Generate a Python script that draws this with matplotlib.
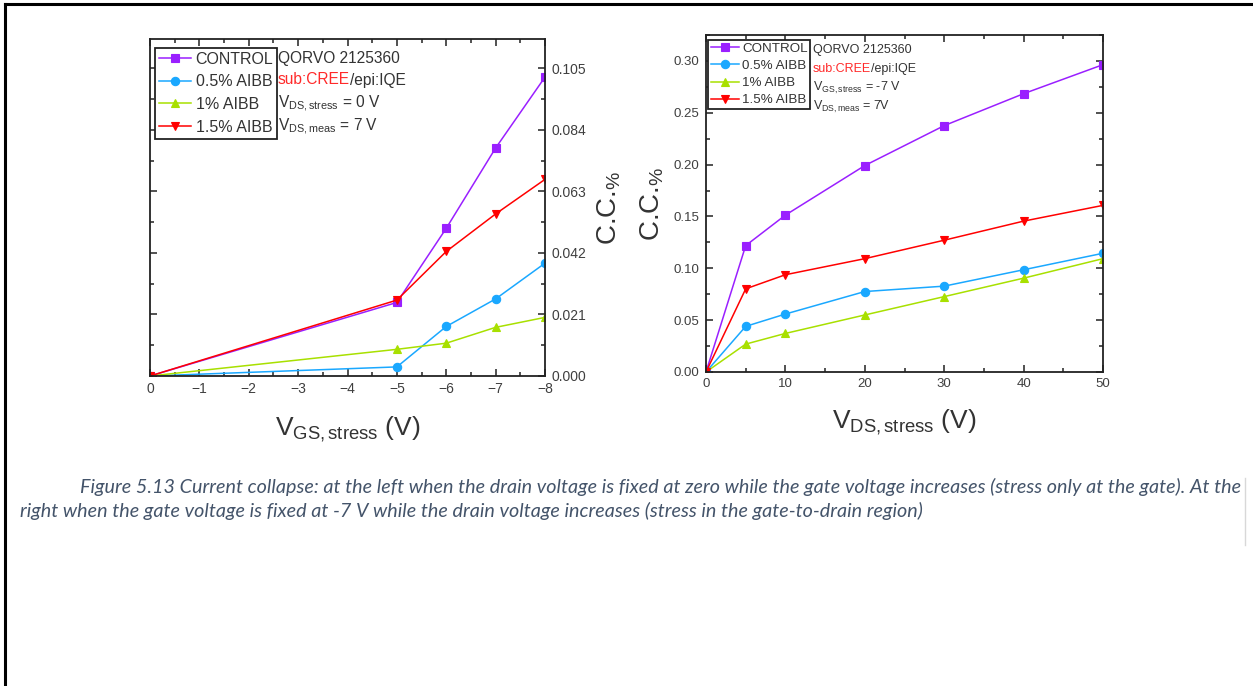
import matplotlib
matplotlib.use("Agg")
import matplotlib.pyplot as plt
from matplotlib.lines import Line2D
from matplotlib.ticker import MultipleLocator, FormatStrFormatter

plt.rcParams['font.family'] = ['Liberation Sans', 'DejaVu Sans']
plt.rcParams['mathtext.fontset'] = 'custom'
plt.rcParams['mathtext.rm'] = 'Liberation Sans'
plt.rcParams['mathtext.it'] = 'Liberation Sans:italic'
plt.rcParams['mathtext.default'] = 'regular'

# ---- data -------------------------------------------------------------
series_labels = ['CONTROL', '0.5% AIBB', '1% AIBB', '1.5% AIBB']
series_colors = ['#9A1FFF', '#1AA8FF', '#A8E000', '#FF0000']
series_markers = ['s', 'o', '^', 'v']

# gate stress sweep (V_DS,stress = 0 V)
vgs_stress = [0, -5, -6, -7, -8]
cc_vgs_control = [0.0, 0.0251, 0.0504, 0.0778, 0.1020]
cc_vgs_aibb05 = [0.0, 0.0031, 0.0169, 0.0263, 0.0385]
cc_vgs_aibb10 = [0.0, 0.0091, 0.0112, 0.0166, 0.0200]
cc_vgs_aibb15 = [0.0, 0.0259, 0.0425, 0.0553, 0.0671]

# drain stress sweep (V_GS,stress = -7 V)
vds_stress = [0, 5, 10, 20, 30, 40, 50]
cc_vds_control = [0.0, 0.1219, 0.1513, 0.1991, 0.2376, 0.2684, 0.2964]
cc_vds_aibb05 = [0.0, 0.0440, 0.0559, 0.0776, 0.0828, 0.0986, 0.1145]
cc_vds_aibb10 = [0.0, 0.0269, 0.0372, 0.0550, 0.0727, 0.0905, 0.1093]
cc_vds_aibb15 = [0.0, 0.0802, 0.0938, 0.1093, 0.1271, 0.1455, 0.1607]

vgs_ticks = [0, -1, -2, -3, -4, -5, -6, -7, -8]
vgs_cc_ticks = [0.000, 0.021, 0.042, 0.063, 0.084, 0.105]
vds_ticks = [0, 10, 20, 30, 40, 50]
vds_cc_ticks = [0.00, 0.05, 0.10, 0.15, 0.20, 0.25, 0.30]

caption_line1 = ("Figure 5.13 Current collapse: at the left when the drain voltage is fixed at zero "
                 "while the gate voltage increases (stress only at the gate). At the")
caption_line2 = ("right when the gate voltage is fixed at -7 V while the drain voltage increases "
                 "(stress in the gate-to-drain region)")

# ---- figure -----------------------------------------------------------
W, H = 1253, 686
fig = plt.figure(figsize=(W / 100, H / 100), dpi=100)
fig.patch.set_facecolor('white')


def fx(x):
    return x / W


def fy(y):
    return 1 - y / H


def axes_px(x0, y0, x1, y1):
    return fig.add_axes([fx(x0), fy(y1), fx(x1) - fx(x0), (y1 - y0) / H])


TICK_COLOR = '#3f3f3f'
TEXT_COLOR = '#333333'


def style_axes(ax, fs):
    for s in ax.spines.values():
        s.set_linewidth(1.3)
        s.set_color('#222222')
    ax.tick_params(which='both', direction='in', top=True, bottom=True,
                   left=True, right=True, colors='#222222',
                   labelcolor=TICK_COLOR, labelsize=fs, width=1.1)
    ax.tick_params(which='major', length=5)
    ax.tick_params(which='minor', length=3)


# left panel
ax1 = axes_px(150, 39, 545, 376)
left_sets = [cc_vgs_control, cc_vgs_aibb05, cc_vgs_aibb10, cc_vgs_aibb15]
handles1 = []
for vals, lab, col, mk in zip(left_sets, series_labels, series_colors, series_markers):
    h, = ax1.plot(vgs_stress, vals, color=col, marker=mk, markersize=6,
                  linewidth=1.1, label=lab, markeredgewidth=0.8)
    handles1.append(h)
ax1.set_xlim(0, -8)
ax1.set_ylim(0, 0.115)
ax1.set_xticks(vgs_ticks)
ax1.xaxis.set_minor_locator(MultipleLocator(0.5))
ax1.set_yticks(vgs_cc_ticks)
ax1.yaxis.set_minor_locator(MultipleLocator(0.0105))
ax1.yaxis.set_major_formatter(FormatStrFormatter('%.3f'))
style_axes(ax1, 10)
ax1.tick_params(axis='y', labelleft=False, labelright=True, pad=5)
ax1.tick_params(axis='x', pad=4)
ax1.set_xlabel(r'$V_{GS,stress}$ (V)', fontsize=19, color=TEXT_COLOR, labelpad=14)
ax1.yaxis.set_label_position('right')
ax1.set_ylabel(r'C.C.$_{\%}$', fontsize=20, color=TEXT_COLOR, labelpad=6)

leg1 = ax1.legend(handles=handles1, loc='upper left',
                  bbox_to_anchor=(fx(155), fy(48)), bbox_transform=fig.transFigure,
                  fontsize=11.5, frameon=True, fancybox=False, framealpha=1,
                  edgecolor='#222222', borderpad=0.25, labelspacing=0.47,
                  handlelength=2.0, handletextpad=0.3, borderaxespad=0)
leg1.get_frame().set_linewidth(1.3)
for t in leg1.get_texts():
    t.set_color(TEXT_COLOR)

# right panel
ax2 = axes_px(706, 35, 1103, 372)
right_sets = [cc_vds_control, cc_vds_aibb05, cc_vds_aibb10, cc_vds_aibb15]
handles2 = []
for vals, lab, col, mk in zip(right_sets, series_labels, series_colors, series_markers):
    h, = ax2.plot(vds_stress, vals, color=col, marker=mk, markersize=6,
                  linewidth=1.1, label=lab, markeredgewidth=0.8)
    handles2.append(h)
ax2.set_xlim(0, 50)
ax2.set_ylim(0, 0.325)
ax2.set_xticks(vds_ticks)
ax2.xaxis.set_minor_locator(MultipleLocator(5))
ax2.set_yticks(vds_cc_ticks)
ax2.yaxis.set_minor_locator(MultipleLocator(0.025))
ax2.yaxis.set_major_formatter(FormatStrFormatter('%.2f'))
style_axes(ax2, 9.5)
ax2.tick_params(axis='y', pad=5)
ax2.tick_params(axis='x', pad=4)
ax2.set_xlabel(r'$V_{DS,stress}$ (V)', fontsize=19, color=TEXT_COLOR, labelpad=13)
ax2.set_ylabel(r'C.C.$_{\%}$', fontsize=20, color=TEXT_COLOR, labelpad=5)

leg2 = ax2.legend(handles=handles2, loc='upper left',
                  bbox_to_anchor=(fx(708), fy(40)), bbox_transform=fig.transFigure,
                  fontsize=9.6, frameon=True, fancybox=False, framealpha=1,
                  edgecolor='#222222', borderpad=0.2, labelspacing=0.36,
                  handlelength=2.1, handletextpad=0.25, borderaxespad=0)
leg2.get_frame().set_linewidth(1.3)
for t in leg2.get_texts():
    t.set_color(TEXT_COLOR)

# annotation blocks beside the legends
renderer = fig.canvas.get_renderer()


def two_colour(x, y, first, second, fs):
    t1 = fig.text(fx(x), fy(y), first, color='#FF2A2A', fontsize=fs, va='center', ha='left')
    bb = t1.get_window_extent(renderer=renderer)
    fig.text(fx(x + bb.width), fy(y), second, color=TEXT_COLOR, fontsize=fs,
             va='center', ha='left')


fs_l = 11.2
fig.text(fx(278), fy(58), 'QORVO 2125360', color=TEXT_COLOR, fontsize=fs_l, va='center')
two_colour(278, 80, 'sub:CREE', '/epi:IQE', fs_l)
fig.text(fx(278), fy(104), r'$V_{DS,stress}$ = 0 V', color=TEXT_COLOR, fontsize=fs_l, va='center')
fig.text(fx(278), fy(127), r'$V_{DS,meas}$ = 7 V', color=TEXT_COLOR, fontsize=fs_l, va='center')

fs_r = 9
fig.text(fx(813), fy(50), 'QORVO 2125360', color=TEXT_COLOR, fontsize=fs_r, va='center')
two_colour(813, 69, 'sub:CREE', '/epi:IQE', fs_r)
fig.text(fx(813), fy(88), r'$V_{GS,stress}$ = -7 V', color=TEXT_COLOR, fontsize=fs_r, va='center')
fig.text(fx(813), fy(107), r'$V_{DS,meas}$ = 7V', color=TEXT_COLOR, fontsize=fs_r, va='center')

# caption
cap_kw = dict(fontsize=14.2, color='#44546A', style='italic',
              family=['Lato', 'DejaVu Sans'], va='center', ha='left')
fig.text(fx(80), fy(487), caption_line1, **cap_kw)
fig.text(fx(20), fy(511), caption_line2, **cap_kw)

# page frame
fig.add_artist(Line2D([fx(5), fx(W)], [fy(3.5), fy(3.5)], color='black', linewidth=2.2,
                      transform=fig.transFigure))
fig.add_artist(Line2D([fx(5), fx(5)], [fy(3.5), fy(H)], color='black', linewidth=2.2,
                      transform=fig.transFigure))
fig.add_artist(Line2D([fx(1245), fx(1245)], [fy(478), fy(545)], color='#d8d8d8',
                      linewidth=1.0, transform=fig.transFigure))

fig.savefig('out.png', dpi=100, facecolor='white')
